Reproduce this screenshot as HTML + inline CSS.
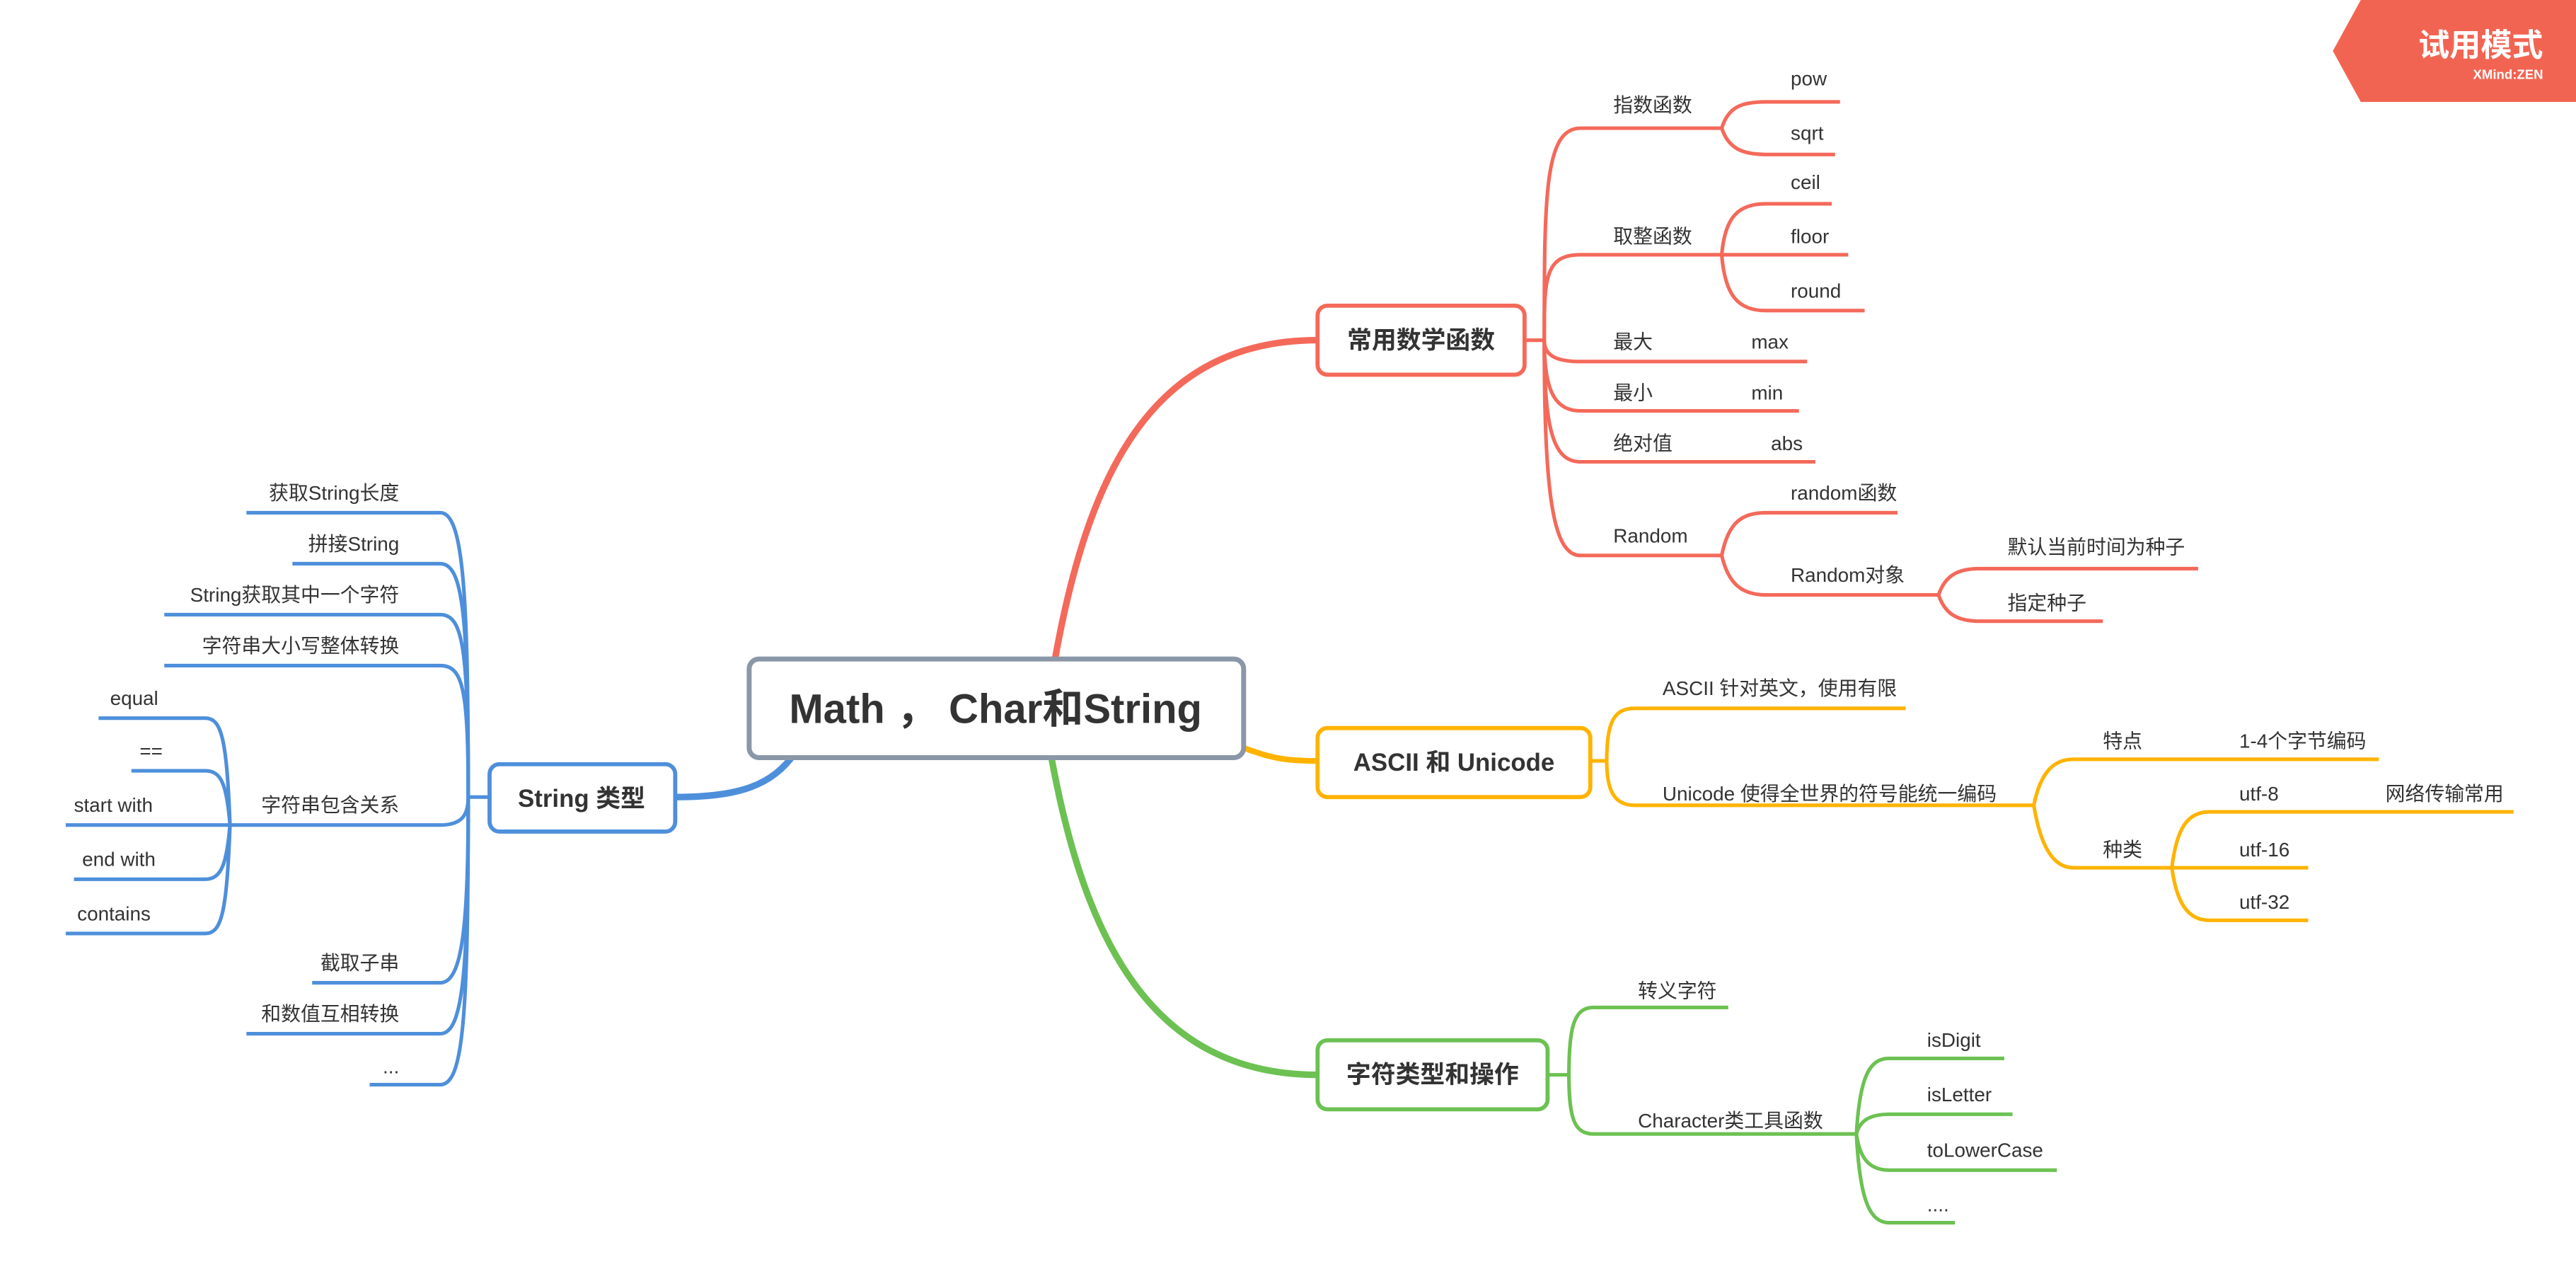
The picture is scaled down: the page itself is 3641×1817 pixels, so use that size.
<!DOCTYPE html>
<html><head><meta charset="utf-8"><style>
html,body{margin:0;padding:0;background:#fff;}
svg{display:block;}
text{font-family:"Liberation Sans","Noto Sans CJK SC",sans-serif;fill:#333;font-size:12px;}
.b{font-weight:bold;font-size:15px;}
</style></head><body>
<svg width="3641" height="1817" viewBox="0 0 1568 782.5" xmlns="http://www.w3.org/2000/svg">
<rect width="1568" height="782.5" fill="#fff"/>
<!-- main branches -->
<g fill="none" stroke-linecap="round">
<path d="M642 402 C662 290 700 207 802 207" stroke="#F4695A" stroke-width="4"/>
<path d="M640 461 C660 570 700 654 802 654" stroke="#6CC152" stroke-width="4"/>
<path d="M757 455 C775 462 785 463 802 463" stroke="#FFB300" stroke-width="3.5"/>
<path d="M484 458 C470 478 450 485 411 485" stroke="#4E8FDB" stroke-width="4"/>
</g>
<!-- red -->
<g fill="none" stroke="#F4695A" stroke-width="2.2">
<path d="M928 207 H940"/>
<path d="M940 207 C940 120 940 78 962 78 H1048"/>
<path d="M940 207 C940 170 940 155 962 155 H1125"/>
<path d="M940 207 C940 215 945 220 962 220 H1100"/>
<path d="M940 207 C940 235 945 250 962 250 H1095"/>
<path d="M940 207 C940 260 945 281 962 281 H1105"/>
<path d="M940 207 C940 300 945 338 962 338 H1048"/>
<path d="M1048 78 C1052 65 1060 62 1075 62 H1120"/>
<path d="M1048 78 C1052 90 1060 94 1075 94 H1117"/>
<path d="M1048 155 C1050 132 1058 124 1075 124 H1115"/>
<path d="M1048 155 C1050 180 1058 189 1075 189 H1135"/>
<path d="M1048 338 C1052 318 1060 312 1075 312 H1155"/>
<path d="M1048 338 C1052 355 1060 362 1075 362 H1180"/>
<path d="M1180 362 C1184 350 1192 346 1205 346 H1338"/>
<path d="M1180 362 C1184 374 1192 378 1205 378 H1280"/>
</g>
<!-- orange -->
<g fill="none" stroke="#FFB300" stroke-width="2.2">
<path d="M968 463 H978"/>
<path d="M978 463 C978 440 982 431 995 431 H1160"/>
<path d="M978 463 C978 480 982 490 995 490 H1238"/>
<path d="M1238 490 C1242 470 1250 462 1262 462 H1448"/>
<path d="M1238 490 C1242 515 1250 528 1262 528 H1322"/>
<path d="M1322 528 C1325 503 1332 494 1345 494 H1530"/>
<path d="M1322 528 H1405"/>
<path d="M1322 528 C1325 550 1332 560 1345 560 H1405"/>
</g>
<!-- green -->
<g fill="none" stroke="#6CC152" stroke-width="2.2">
<path d="M942 654 H955"/>
<path d="M955 654 C955 625 958 613 970 613 H1052"/>
<path d="M955 654 C955 680 958 690 970 690 H1130"/>
<path d="M1130 690 C1132 655 1138 644 1150 644 H1220"/>
<path d="M1130 690 C1132 682 1138 678 1150 678 H1225"/>
<path d="M1130 690 C1132 705 1138 712 1150 712 H1252"/>
<path d="M1130 690 C1132 730 1138 744 1150 744 H1190"/>
</g>
<!-- blue -->
<g fill="none" stroke="#4E8FDB" stroke-width="2.2">
<path d="M298 485 H285"/>
<path d="M285 485 C285 360 282 312 268 312 H150"/>
<path d="M285 485 C285 375 282 343 268 343 H178"/>
<path d="M285 485 C285 395 282 374 268 374 H100"/>
<path d="M285 485 C285 420 282 405 268 405 H100"/>
<path d="M285 485 C285 495 282 502 268 502 H140"/>
<path d="M285 485 C285 560 282 598 268 598 H190"/>
<path d="M285 485 C285 590 282 629 268 629 H150"/>
<path d="M285 485 C285 620 282 660 268 660 H225"/>
<path d="M140 502 C138 450 135 437 125 437 H60"/>
<path d="M140 502 C138 478 135 469 125 469 H80"/>
<path d="M140 502 H40"/>
<path d="M140 502 C138 525 135 535 125 535 H45"/>
<path d="M140 502 C138 555 135 568 125 568 H40"/>
</g>
<!-- nodes -->
<rect x="456" y="401" width="301" height="60" rx="6" fill="#fff" stroke="#8A97A8" stroke-width="3"/>
<text x="606" y="440" text-anchor="middle" style="font-size:25px;font-weight:bold">Math ， Char和String</text>
<rect x="802" y="186" width="126" height="42" rx="6" fill="#fff" stroke="#F4695A" stroke-width="2.5"/>
<text x="865" y="212" text-anchor="middle" class="b">常用数学函数</text>
<rect x="802" y="443" width="166" height="42" rx="6" fill="#fff" stroke="#FFB300" stroke-width="2.5"/>
<text x="885" y="469" text-anchor="middle" class="b">ASCII 和 Unicode</text>
<rect x="802" y="633" width="140" height="42" rx="6" fill="#fff" stroke="#6CC152" stroke-width="2.5"/>
<text x="872" y="659" text-anchor="middle" class="b">字符类型和操作</text>
<rect x="298" y="465" width="113" height="41" rx="6" fill="#fff" stroke="#4E8FDB" stroke-width="2.5"/>
<text x="354" y="491" text-anchor="middle" class="b">String 类型</text>
<!-- red labels -->
<text x="982" y="68">指数函数</text>
<text x="1090" y="52">pow</text>
<text x="1090" y="85">sqrt</text>
<text x="1090" y="115">ceil</text>
<text x="982" y="148">取整函数</text>
<text x="1090" y="148">floor</text>
<text x="1090" y="181">round</text>
<text x="982" y="212">最大</text>
<text x="1066" y="212">max</text>
<text x="982" y="243">最小</text>
<text x="1066" y="243">min</text>
<text x="982" y="274">绝对值</text>
<text x="1078" y="274">abs</text>
<text x="982" y="330">Random</text>
<text x="1090" y="304">random函数</text>
<text x="1090" y="354">Random对象</text>
<text x="1222" y="337">默认当前时间为种子</text>
<text x="1222" y="371">指定种子</text>
<!-- orange labels -->
<text x="1012" y="423">ASCII 针对英文，使用有限</text>
<text x="1012" y="487">Unicode 使得全世界的符号能统一编码</text>
<text x="1280" y="455">特点</text>
<text x="1363" y="455">1-4个字节编码</text>
<text x="1280" y="521">种类</text>
<text x="1363" y="487">utf-8</text>
<text x="1452" y="487">网络传输常用</text>
<text x="1363" y="521">utf-16</text>
<text x="1363" y="553">utf-32</text>
<!-- green labels -->
<text x="997" y="607">转义字符</text>
<text x="997" y="686">Character类工具函数</text>
<text x="1173" y="637">isDigit</text>
<text x="1173" y="670">isLetter</text>
<text x="1173" y="704">toLowerCase</text>
<text x="1173" y="737">....</text>
<!-- blue labels -->
<g text-anchor="end">
<text x="243" y="304">获取String长度</text>
<text x="243" y="335">拼接String</text>
<text x="243" y="366">String获取其中一个字符</text>
<text x="243" y="397">字符串大小写整体转换</text>
<text x="243" y="494">字符串包含关系</text>
<text x="243" y="590">截取子串</text>
<text x="243" y="621">和数值互相转换</text>
<text x="243" y="653">...</text>
</g>
<text x="67" y="429">equal</text>
<text x="85" y="461">==</text>
<text x="45" y="494">start with</text>
<text x="50" y="527">end with</text>
<text x="47" y="560">contains</text>
<!-- trial badge -->
<polygon points="1437,0 1568,0 1568,62 1437,62 1420,31" fill="#F26452"/>
<text x="1548" y="34" text-anchor="end" style="fill:#fff;font-size:19px;font-weight:bold">试用模式</text>
<text x="1548" y="48" text-anchor="end" style="fill:#fff;font-size:8px;font-weight:bold">XMind:ZEN</text>
</svg>
</body></html>
